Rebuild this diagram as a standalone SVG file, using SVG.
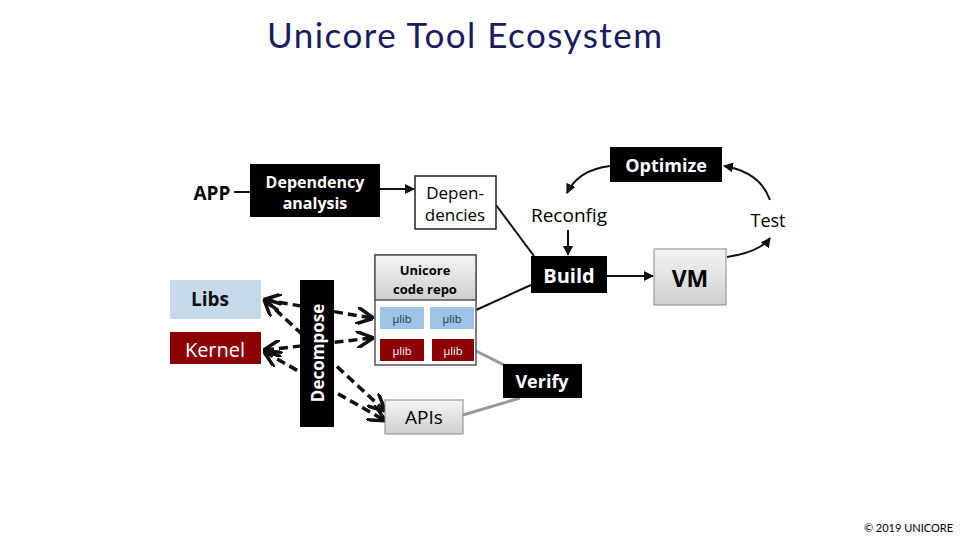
<svg xmlns="http://www.w3.org/2000/svg" width="960" height="540" viewBox="0 0 960 540">
<defs>
<marker id="a" viewBox="0 0 10 10" refX="9" refY="5" markerWidth="5" markerHeight="5" orient="auto-start-reverse"><path d="M0,0 L10,5 L0,10" fill="none" stroke="#111" stroke-width="2"/></marker>
<marker id="s" viewBox="0 0 10 10" refX="9" refY="5" markerWidth="5" markerHeight="5" orient="auto"><path d="M0,0 L10,5 L0,10 z" fill="#111"/></marker>
<linearGradient id="g" x1="0" y1="0" x2="0" y2="1"><stop offset="0" stop-color="#f4f4f4"/><stop offset="1" stop-color="#cfcfcf"/></linearGradient>
</defs>
<style>
text{font-family:"Open Sans","DejaVu Sans",sans-serif;text-anchor:middle}
.b{font-weight:bold}
.blk{fill:#000}
.w{fill:#fff}
.dash{stroke:#111;stroke-width:3.5;stroke-dasharray:9,5;fill:none;marker-end:url(#a);marker-start:url(#a)}
.ln{stroke:#111;stroke-width:2;fill:none}
.gl{stroke:#999;stroke-width:3;fill:none}
</style>
<rect width="960" height="540" fill="#fff"/>
<text x="267" y="48" font-size="35" fill="#1a1a5e" textLength="395" style="text-anchor:start;font-family:Lato,sans-serif">Unicore Tool Ecosystem</text>
<text x="953" y="532" font-size="11" style="text-anchor:end;font-family:Lato,sans-serif">© 2019 UNICORE</text>
<g id="connectors">
<path class="ln" d="M234,192 H250"/>
<path class="ln" d="M380,189 H414" marker-end="url(#s)"/>
<path class="ln" d="M496,205 L534,256"/>
<path class="ln" d="M476,310 L531,285"/>
<path class="gl" d="M474,350 L510,368"/>
<path class="gl" d="M463,415 L520,398"/>
<path class="ln" d="M568,230 V255" marker-end="url(#s)"/>
<path class="ln" d="M607,276 H653" marker-end="url(#s)"/>
<path class="ln" d="M727,257 Q760,252 770,238" marker-end="url(#s)"/>
<path class="ln" d="M770,200 Q760,172 724,166" marker-end="url(#s)"/>
<path class="ln" d="M610,166 Q578,170 567,193" marker-end="url(#s)"/>
<path class="dash" d="M265,300 L372,318"/>
<path class="dash" d="M265,350 L372,338"/>
<path class="dash" d="M265,300 L384,410"/>
<path class="dash" d="M265,352 L384,420"/>
</g>
<g id="app"><text x="212" y="200" font-size="19" class="b">APP</text></g>
<g id="dep-analysis"><rect x="250" y="164" width="130" height="53" class="blk"/><text x="315" y="188" font-size="16" class="b w">Dependency</text><text x="315" y="209" font-size="16" class="b w">analysis</text></g>
<g id="dependencies"><rect x="415" y="176" width="81" height="53" fill="#fff" stroke="#222" stroke-width="1.5"/><text x="455" y="199" font-size="17">Depen-</text><text x="455" y="221" font-size="17">dencies</text></g>
<g id="repo"><rect x="375" y="255" width="101" height="110" fill="#fff" stroke="#555" stroke-width="1.5"/><rect x="375" y="255" width="101" height="45" fill="url(#g)" stroke="#555" stroke-width="1.5"/>
<text x="425" y="275" font-size="13" class="b">Unicore</text><text x="425" y="294" font-size="13" class="b">code repo</text>
<rect x="380" y="307" width="44" height="22" fill="#9dc3e6"/><rect x="430" y="307" width="44" height="22" fill="#9dc3e6"/>
<rect x="380" y="339" width="44" height="22" fill="#8b0000"/><rect x="432" y="339" width="42" height="22" fill="#8b0000"/>
<text x="402" y="323" font-size="11" fill="#234">µlib</text><text x="452" y="323" font-size="11" fill="#234">µlib</text>
<text x="402" y="355" font-size="11" class="w">µlib</text><text x="453" y="355" font-size="11" class="w">µlib</text></g>
<g id="libs"><rect x="170" y="280" width="91" height="39" fill="#c5d9ea"/><text x="210" y="306" font-size="19" class="b" fill="#111">Libs</text></g>
<g id="kernel"><rect x="170" y="332" width="91" height="32" fill="#8b0000"/><text x="215" y="357" font-size="20" class="w">Kernel</text></g>
<g id="decompose"><rect x="300" y="280" width="34" height="147" class="blk"/><text transform="translate(324,353) rotate(-90)" font-size="17" class="b w">Decompose</text></g>
<g id="apis"><rect x="385" y="400" width="78" height="34" fill="url(#g)" stroke="#888"/><text x="424" y="424" font-size="19">APIs</text></g>
<g id="optimize"><rect x="610" y="147" width="112" height="35" class="blk"/><text x="666" y="172" font-size="18" class="b w">Optimize</text></g>
<g id="reconfig"><text x="569" y="222" font-size="19">Reconfig</text></g>
<g id="test"><text x="768" y="227" font-size="18">Test</text></g>
<g id="build"><rect x="531" y="256" width="76" height="37" class="blk"/><text x="569" y="283" font-size="20" class="b w">Build</text></g>
<g id="vm"><rect x="654" y="249" width="72" height="56" fill="url(#g)" stroke="#888"/><text x="690" y="287" font-size="23" class="b">VM</text></g>
<g id="verify"><rect x="503" y="364" width="79" height="34" class="blk"/><text x="542" y="388" font-size="18" class="b w">Verify</text></g>
</svg>
